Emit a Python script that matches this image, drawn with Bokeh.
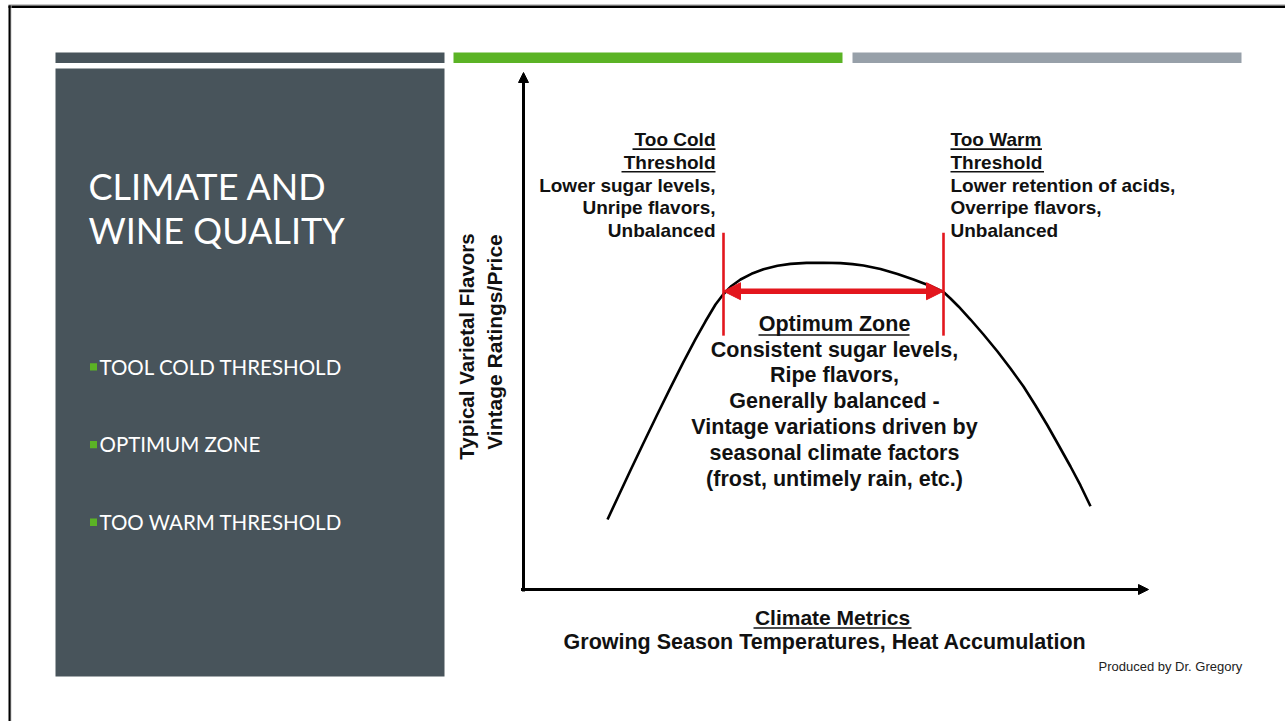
from bokeh.plotting import figure
from bokeh.models import Range1d, Label, Arrow, NormalHead
from bokeh.embed import file_html
from bokeh.resources import INLINE

# ---------------- data ----------------
# climate metric (x, 0..10 along the arrow axis) and quality (y, 0..10)
climate = [1.344, 1.536, 1.712, 1.920, 2.144, 2.352, 2.560, 2.752, 2.912, 3.072,
           3.200, 3.328, 3.472, 3.648, 3.840, 4.064, 4.272, 4.528, 4.800, 5.072,
           5.264, 5.440, 5.712, 5.984, 6.240, 6.512, 6.720, 6.832, 6.960, 7.152,
           7.360, 7.584, 7.792, 8.000, 8.192, 8.384, 8.560, 8.752, 8.912, 9.072]
quality = [1.354, 1.853, 2.306, 2.834, 3.395, 3.905, 4.402, 4.843, 5.188, 5.513,
           5.716, 5.870, 5.996, 6.106, 6.195, 6.263, 6.298, 6.317, 6.321, 6.313,
           6.294, 6.267, 6.199, 6.103, 5.996, 5.870, 5.754, 5.629, 5.474, 5.222,
           4.932, 4.603, 4.275, 3.926, 3.559, 3.172, 2.795, 2.379, 2.012, 1.610]
thresholds = [3.20, 6.72]          # too cold, too warm
threshold_span = [4.91, 6.90]      # vertical extent of threshold markers
optimum_level = 5.77               # level of the optimum-zone arrow
axis_max = 10

title_lines = ["CLIMATE AND", "WINE QUALITY"]
bullets = ["TOOL COLD THRESHOLD", "OPTIMUM ZONE", "TOO WARM THRESHOLD"]
cold_lines = ["Too Cold", "Threshold", "Lower sugar levels,", "Unripe flavors,", "Unbalanced"]
warm_lines = ["Too Warm", "Threshold", "Lower retention of acids,", "Overripe flavors,", "Unbalanced"]
zone_lines = ["Optimum Zone", "Consistent sugar levels,", "Ripe flavors,",
              "Generally balanced -", "Vintage variations driven by",
              "seasonal climate factors", "(frost, untimely rain, etc.)"]
x_title = ["Climate Metrics", "Growing  Season Temperatures, Heat Accumulation"]
y_title = ["Typical Varietal Flavors", "Vintage Ratings/Price"]
credit = "Produced by Dr. Gregory"

# ---------------- figure ----------------
W, H = 1285, 721
p = figure(width=W, height=H, x_range=Range1d(0, W), y_range=Range1d(H, 0),
           output_backend="svg", toolbar_location=None, min_border=0,
           x_axis_location=None, y_axis_location=None)
p.grid.visible = False
p.outline_line_color = None
p.background_fill_color = "white"
p.border_fill_color = "white"

# chart coordinate system (origin of the arrows at px 523, 589)
ox, oy, sx, sy = 523.0, 589.0, 62.5, 51.7
p.extra_x_ranges = {"cx": Range1d(-ox / sx, (W - ox) / sx)}
p.extra_y_ranges = {"cy": Range1d(-(H - oy) / sy, oy / sy)}
CR = dict(x_range_name="cx", y_range_name="cy")

# ---------------- slide decoration ----------------
SLATE, GREEN, GREY = "#48545B", "#5BB325", "#97A0A9"
p.quad(left=[8], right=[W], top=[3.5], bottom=[5], color="#C8C8C8", line_color=None)
p.quad(left=[8], right=[W], top=[5], bottom=[7.5], color="black", line_color=None)
p.quad(left=[8], right=[10.3], top=[5], bottom=[H], color="black", line_color=None)
p.quad(left=[10.3], right=[11], top=[5], bottom=[H], color="#C8C8C8", line_color=None)
p.quad(left=[55, 453, 852], right=[444, 842, 1241], top=[52, 52, 52], bottom=[62.5, 62.5, 62.5],
       color=[SLATE, GREEN, GREY], line_color=None)
p.quad(left=[55], right=[444], top=[68], bottom=[676], color=SLATE, line_color=None)

SHIFT = 0.38  # em offset so that y is the text baseline


def lab(x, y, text, size, font="Liberation Sans", style="bold", color="#111111",
        align="left", baseline="alphabetic", angle=0):
    yy = y - SHIFT * size if baseline == "alphabetic" else y
    p.add_layout(Label(x=x, y=yy, text=text, text_font=font, text_font_size=f"{size}px",
                       text_font_style=style, text_color=color, text_align=align,
                       text_baseline=baseline, angle=angle))


for i, t in enumerate(title_lines):
    lab(88, 199.5 + 44 * i, t, 36, font="Lato", style="normal", color="white")
for i, t in enumerate(bullets):
    yb = 374 + 77.7 * i
    p.quad(left=[89.5], right=[96.5], top=[yb - 11.3], bottom=[yb - 4], color=GREEN, line_color=None)
    lab(99, yb, t, 20.5, font="Lato", style="normal", color="white")

# ---------------- chart ----------------
p.line(climate, quality, line_color="black", line_width=2.6, **CR)

head = dict(size=10, fill_color="black", line_color="black", line_width=1)
p.add_layout(Arrow(x_start=-0.04, y_start=0, x_end=axis_max, y_end=0, line_width=3,
                   line_color="black", end=NormalHead(**head), start=None, **CR))
p.add_layout(Arrow(x_start=0, y_start=-0.04, x_end=0, y_end=axis_max, line_width=3,
                   line_color="black", end=NormalHead(**head), start=None, **CR))

RED = "#E3161D"
p.segment(x0=thresholds, y0=[threshold_span[0]] * 2, x1=thresholds, y1=[threshold_span[1]] * 2,
          line_color=RED, line_width=2.6, **CR)
rhead = dict(size=17, fill_color=RED, line_color=RED, line_width=1)
p.add_layout(Arrow(x_start=thresholds[0], y_start=optimum_level, x_end=thresholds[1],
                   y_end=optimum_level, line_width=5.5, line_color=RED,
                   start=NormalHead(**rhead), end=NormalHead(**rhead), **CR))

# threshold texts
for i, t in enumerate(cold_lines):
    lab(715, 146.5 + 22.7 * i, t, 19, align="right")
for i, t in enumerate(warm_lines):
    lab(950, 146.5 + 22.7 * i, t, 19, align="left")
p.segment(x0=[632, 621, 950, 950], y0=[148.6, 171.3, 148.6, 171.3],
          x1=[715, 715, 1041.5, 1043.5], y1=[148.6, 171.3, 148.6, 171.3],
          line_color="#111111", line_width=1.6)

# optimum zone text
for i, t in enumerate(zone_lines):
    lab(834, 331.5 + 25.8 * i, t, 21.5, align="center")
p.segment(x0=[758], y0=[334.5], x1=[909], y1=[334.5], line_color="#111111", line_width=1.6)

# axis titles
lab(832, 625, x_title[0], 21, align="center")
p.segment(x0=[753], y0=[627.5], x1=[911], y1=[627.5], line_color="#111111", line_width=1.6)
lab(827.5, 649.3, x_title[1], 21.5, align="center")
lab(466, 346, y_title[0], 20.5, align="center", baseline="middle", angle=1.5708)
lab(494, 341.5, y_title[1], 21, align="center", baseline="middle", angle=1.5708)

lab(1098, 670.5, credit, 13, style="normal", color="#222222")

open("out.html", "w").write(file_html(p, INLINE))
